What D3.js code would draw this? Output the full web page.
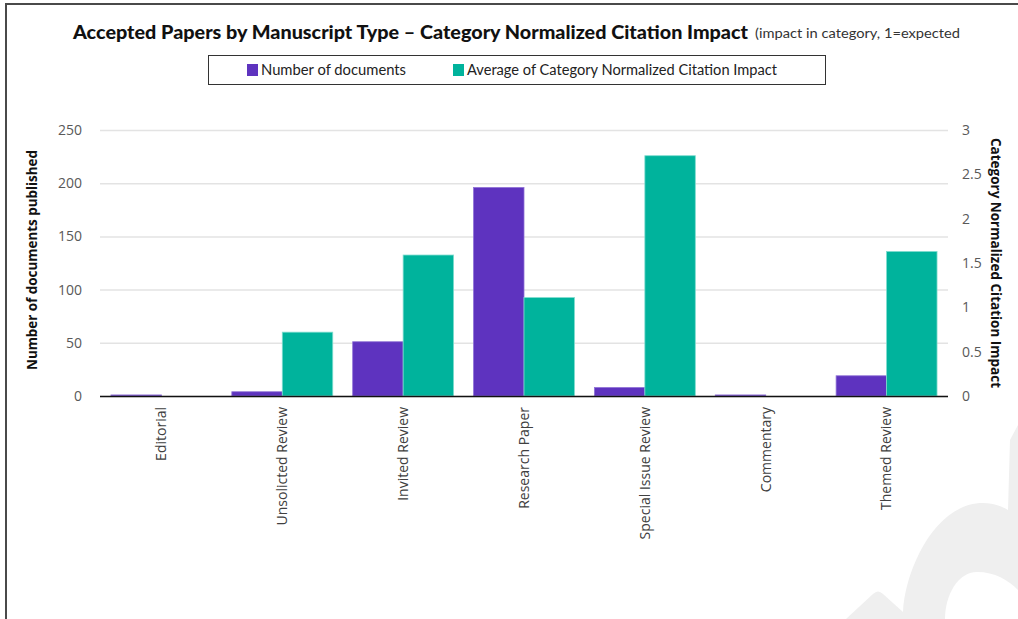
<!DOCTYPE html>
<html><head><meta charset="utf-8">
<script src="https://cdn.jsdelivr.net/npm/d3@7"></script>
<style>body{margin:0;background:#fff;overflow:hidden}svg{display:block}</style>
</head><body>
<script>
const categories = ["Editorial","Unsolicted Review","Invited Review","Research Paper","Special Issue Review","Commentary","Themed Review"];
const docCounts = [1, 4, 51, 196, 8, 1, 19];
const cnciValues = [0, 0.72, 1.59, 1.11, 2.71, 0, 1.63];
const leftTicks = [0, 50, 100, 150, 200, 250];
const rightTicks = [0, 0.5, 1, 1.5, 2, 2.5, 3];
const seriesNames = ["Number of documents", "Average of Category Normalized Citation Impact"];
const colors = ["#5e33bf", "#00b39c"];
const strokes = ["#8f72d6", "#7fdccf"];

const W = 1018, H = 619;
const svg = d3.select("body").append("svg").attr("width", W).attr("height", H);

// watermark
svg.append("path").attr("fill", "#efefef")
  .attr("d", "M846,619 L873,594 Q878,589 883,594 L903,612 C905,570 935,503 983,503 C995,503 1003,507 1008,510 L1010,440 L1018,425 L1018,619 Z");
svg.append("path").attr("fill", "#fff")
  .attr("d", "M945,619 C945,595 958,572 977,572 C995,572 1008,580 1018,590 L1018,619 Z");

// frame
svg.append("path").attr("d", "M6,619 L6,4 L1018,4").attr("fill", "none").attr("stroke", "#4a4a4a").attr("stroke-width", 2);

const x0 = d3.scaleBand().domain(categories).range([101, 947]).paddingInner(0.165).paddingOuter(0.0825);
const x1 = d3.scaleBand().domain([0, 1]).range([0, x0.bandwidth()]);
const yL = d3.scaleLinear().domain([0, 250]).range([396, 130]);
const yR = d3.scaleLinear().domain([0, 3]).range([396, 130]);

// gridlines
const gl = svg.append("g").attr("transform", "translate(100,0)")
  .call(d3.axisLeft(yL).tickValues(leftTicks).tickSize(-848).tickFormat(""));
gl.select(".domain").remove();
gl.selectAll("line").attr("stroke", "#e3e3e3").attr("stroke-width", 1.5);

// left labels
const la = svg.append("g").attr("transform", "translate(82,0)")
  .call(d3.axisLeft(yL).tickValues(leftTicks).tickSize(0).tickPadding(0));
la.select(".domain").remove();
la.selectAll("text").attr("font-family", "Open Sans").attr("font-size", 14).attr("fill", "#595959");

// right labels
const ra = svg.append("g").attr("transform", "translate(962,0)")
  .call(d3.axisRight(yR).tickValues(rightTicks).tickSize(0).tickPadding(0).tickFormat(d3.format("")));
ra.select(".domain").remove();
ra.selectAll("text").attr("font-family", "Open Sans").attr("font-size", 14).attr("fill", "#595959");

// bars
const g = svg.append("g");
const groups = g.selectAll("g").data(categories).join("g").attr("transform", d => `translate(${x0(d)},0)`);
groups.append("rect")
  .attr("x", x1(0)).attr("width", x1.bandwidth())
  .attr("y", (d, i) => yL(docCounts[i])).attr("height", (d, i) => 396 - yL(docCounts[i]))
  .attr("fill", colors[0]).attr("stroke", strokes[0]).attr("stroke-width", 0.8);
groups.filter((d, i) => cnciValues[i] > 0).append("rect")
  .attr("x", x1(1)).attr("width", x1.bandwidth())
  .attr("y", d => yR(cnciValues[categories.indexOf(d)])).attr("height", d => 396 - yR(cnciValues[categories.indexOf(d)]))
  .attr("fill", colors[1]).attr("stroke", strokes[1]).attr("stroke-width", 0.8);

// baseline
svg.append("line").attr("x1", 100).attr("x2", 948).attr("y1", 396.5).attr("y2", 396.5).attr("stroke", "#111").attr("stroke-width", 1.5);

// x labels
const xa = svg.append("g").attr("transform", "translate(0,396)")
  .call(d3.axisBottom(x0).tickSize(0).tickPadding(0));
xa.select(".domain").remove();
xa.selectAll("text")
  .attr("font-family", "Open Sans").attr("font-size", 14).attr("fill", "#404040")
  .attr("transform", "rotate(-90)").attr("text-anchor", "end")
  .attr("x", -11).attr("y", 0).attr("dy", "0.35em");

// axis titles
svg.append("text").attr("transform", "translate(32,260) rotate(-90)")
  .attr("text-anchor", "middle").attr("dominant-baseline", "central")
  .attr("font-family", "Open Sans").attr("font-weight", "bold").attr("font-size", 13.5)
  .attr("fill", "#111").attr("textLength", 220).attr("lengthAdjust", "spacingAndGlyphs")
  .text("Number of documents published");
svg.append("text").attr("transform", "translate(996,263) rotate(90)")
  .attr("text-anchor", "middle").attr("dominant-baseline", "central")
  .attr("font-family", "Open Sans").attr("font-weight", "bold").attr("font-size", 13.5)
  .attr("fill", "#111").attr("textLength", 250).attr("lengthAdjust", "spacingAndGlyphs")
  .text("Category Normalized Citation Impact");

// title
svg.append("text").attr("x", 73).attr("y", 39)
  .attr("font-family", "Lato").attr("font-weight", "900").attr("font-size", 19).attr("fill", "#111")
  .attr("textLength", 675).attr("lengthAdjust", "spacingAndGlyphs")
  .text("Accepted Papers by Manuscript Type – Category Normalized Citation Impact");
svg.append("text").attr("x", 755).attr("y", 38)
  .attr("font-family", "Lato").attr("font-size", 13.5).attr("fill", "#333")
  .attr("textLength", 205).attr("lengthAdjust", "spacingAndGlyphs")
  .text("(impact in category, 1=expected");

// legend
svg.append("rect").attr("x", 208.5).attr("y", 55.5).attr("width", 617).attr("height", 29)
  .attr("fill", "#fff").attr("stroke", "#333").attr("stroke-width", 1);
const legX = [247, 453], legTextLen = [145, 310];
seriesNames.forEach((n, i) => {
  svg.append("rect").attr("x", legX[i]).attr("y", 64).attr("width", 11).attr("height", 12).attr("fill", colors[i]);
  svg.append("text").attr("x", legX[i] + 14).attr("y", 74.5)
    .attr("font-family", "Lato").attr("font-size", 14.5).attr("fill", "#222")
    .attr("textLength", legTextLen[i]).attr("lengthAdjust", "spacingAndGlyphs").text(n);
});
</script>
</body></html>
